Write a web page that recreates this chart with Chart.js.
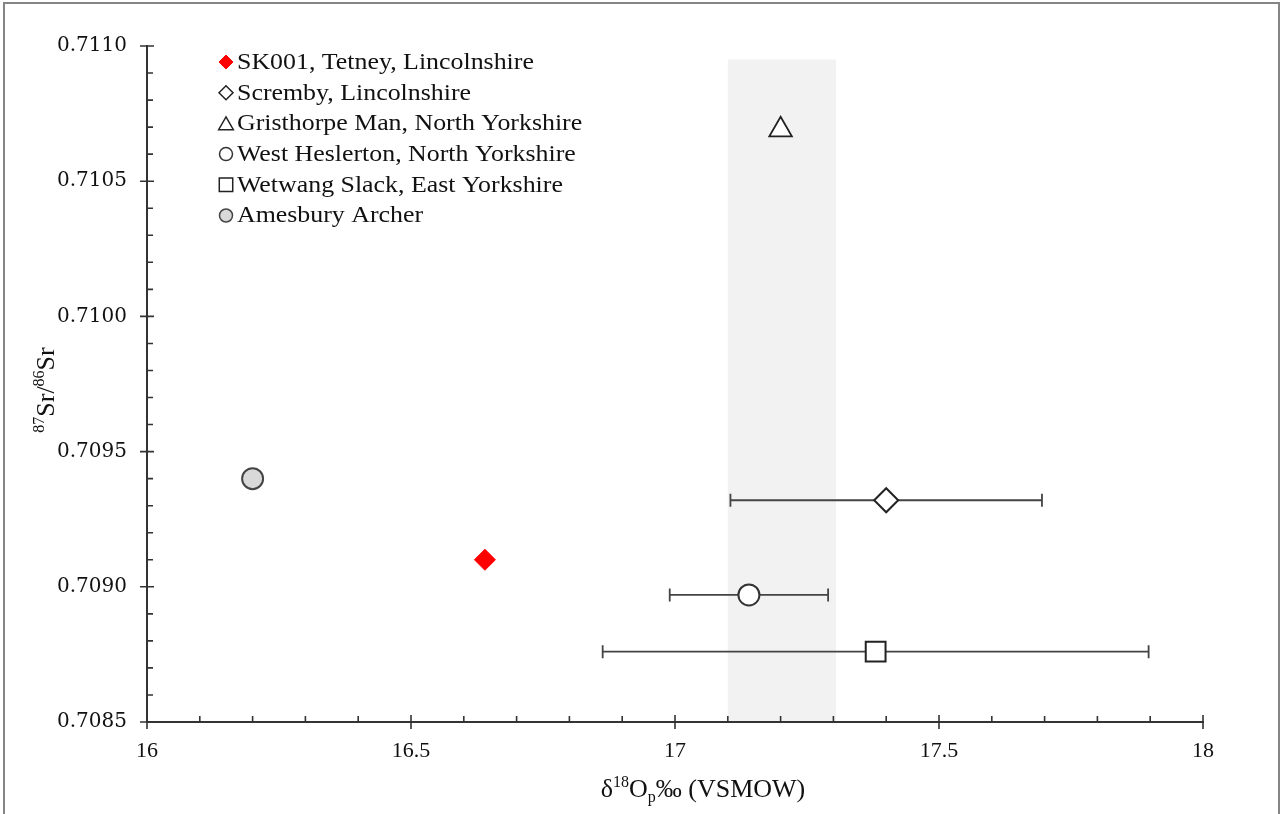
<!DOCTYPE html>
<html><head><meta charset="utf-8">
<script src="https://cdn.jsdelivr.net/npm/chart.js@4/dist/chart.umd.min.js"></script>
<style>
html,body{margin:0;padding:0;background:#fff;overflow:hidden;}
#wrap{position:relative;width:1283px;height:814px;}
#frame{position:absolute;left:3px;top:2px;width:1273px;height:840px;border:2px solid #858585;border-bottom:none;pointer-events:none;}
</style></head><body>
<div id="wrap"><canvas id="c" width="1283" height="814"></canvas><div id="frame"></div></div>
<script>
// ---- data ----
const siteLabels = [
  'SK001, Tetney, Lincolnshire',
  'Scremby, Lincolnshire',
  'Gristhorpe Man, North Yorkshire',
  'West Heslerton, North Yorkshire',
  'Wetwang Slack, East Yorkshire',
  'Amesbury Archer'
];
const d18O     = [16.64, 17.40, 17.20, 17.14, 17.38, 16.20];
const srRatio  = [0.70910, 0.70932, 0.71069, 0.70897, 0.70876, 0.70940];
const d18OErr  = [0, 0.295, 0, 0.15, 0.517, 0];
const xTickValues = [16, 16.5, 17, 17.5, 18];
const yTickValues = [0.7085, 0.7090, 0.7095, 0.7100, 0.7105, 0.7110];
const bandRange = [17.1, 17.305];
const bandTop = 0.71095;

// ---- styles ----
const markerStyles = [
  {style:'rectRot',  r:10.5, bg:'#ff0000', bd:'#ff0000', bw:1,   lr:7},
  {style:'rectRot',  r:12,   bg:'#ffffff', bd:'#222222', bw:2,   lr:7},
  {style:'triangle', r:13,   bg:'#ffffff', bd:'#222222', bw:1.8, lr:8.5},
  {style:'circle',   r:10.5, bg:'#ffffff', bd:'#333333', bw:2,   lr:6.5},
  {style:'rect',     r:14,   bg:'#ffffff', bd:'#222222', bw:2,   lr:9.5},
  {style:'circle',   r:10.5, bg:'#d9d9d9', bd:'#444444', bw:2,   lr:6.5}
];

const SERIF = "'Liberation Serif', 'Times New Roman', serif";

const datasets = siteLabels.map((lab, i) => ({
  label: lab,
  data: [{x: d18O[i], y: srRatio[i], err: d18OErr[i]}],
  pointStyle: markerStyles[i].style,
  pointRadius: markerStyles[i].r,
  pointBackgroundColor: markerStyles[i].bg,
  pointBorderColor: markerStyles[i].bd,
  pointBorderWidth: markerStyles[i].bw,
  showLine: false
}));

function drawMarker(ctx, style, x, y, r, bg, bd, bw) {
  ctx.save();
  ctx.beginPath();
  if (style === 'circle') {
    ctx.arc(x, y, r, 0, Math.PI * 2);
  } else if (style === 'rectRot') {
    ctx.moveTo(x - r, y); ctx.lineTo(x, y - r); ctx.lineTo(x + r, y); ctx.lineTo(x, y + r);
    ctx.closePath();
  } else if (style === 'triangle') {
    const a = 2 * Math.PI / 3;
    ctx.moveTo(x, y - r);
    ctx.lineTo(x + Math.sin(a) * r, y - Math.cos(a) * r);
    ctx.lineTo(x + Math.sin(2 * a) * r, y - Math.cos(2 * a) * r);
    ctx.closePath();
  } else if (style === 'rect') {
    const s = r * Math.SQRT1_2;
    ctx.rect(x - s, y - s, 2 * s, 2 * s);
  }
  ctx.fillStyle = bg; ctx.fill();
  ctx.lineWidth = bw; ctx.strokeStyle = bd; ctx.stroke();
  ctx.restore();
}

const decorPlugin = {
  id: 'decor',
  beforeDraw(chart) {
    const {ctx, scales: {x, y}, chartArea} = chart;
    const x0 = x.getPixelForValue(bandRange[0]);
    const x1 = x.getPixelForValue(bandRange[1]);
    const yt = y.getPixelForValue(bandTop);
    ctx.save();
    ctx.fillStyle = '#f2f2f2';
    ctx.fillRect(x0, yt, x1 - x0, chartArea.bottom - yt);
    ctx.restore();
  },
  beforeDatasetsDraw(chart) {
    const {ctx, scales: {x, y}} = chart;
    ctx.save();
    ctx.strokeStyle = '#444';
    ctx.lineWidth = 1.8;
    chart.data.datasets.forEach(ds => {
      ds.data.forEach(p => {
        if (!p.err) return;
        const py = y.getPixelForValue(p.y);
        const xa = x.getPixelForValue(p.x - p.err);
        const xb = x.getPixelForValue(p.x + p.err);
        ctx.beginPath();
        ctx.moveTo(xa, py); ctx.lineTo(xb, py);
        ctx.moveTo(xa, py - 6.5); ctx.lineTo(xa, py + 6.5);
        ctx.moveTo(xb, py - 6.5); ctx.lineTo(xb, py + 6.5);
        ctx.stroke();
      });
    });
    ctx.restore();
    ctx.save();
    ctx.strokeStyle = '#333';
    ctx.lineWidth = 1.6;
    const left = chart.chartArea.left, bottom = chart.chartArea.bottom;
    ctx.beginPath();
    const yStepMinor = (yTickValues[1] - yTickValues[0]) / 5;
    for (let i = 0; i < yTickValues.length; i++) {
      const py = y.getPixelForValue(yTickValues[i]);
      ctx.moveTo(left - 7, py); ctx.lineTo(left + 7, py);
      if (i < yTickValues.length - 1) {
        for (let k = 1; k < 5; k++) {
          const pm = y.getPixelForValue(yTickValues[i] + k * yStepMinor);
          ctx.moveTo(left, pm); ctx.lineTo(left + 6, pm);
        }
      }
    }
    const xStepMinor = (xTickValues[1] - xTickValues[0]) / 5;
    for (let i = 0; i < xTickValues.length; i++) {
      const px = x.getPixelForValue(xTickValues[i]);
      ctx.moveTo(px, bottom - 7); ctx.lineTo(px, bottom + 7);
      if (i < xTickValues.length - 1) {
        for (let k = 1; k < 5; k++) {
          const pm = x.getPixelForValue(xTickValues[i] + k * xStepMinor);
          ctx.moveTo(pm, bottom); ctx.lineTo(pm, bottom - 6);
        }
      }
    }
    ctx.stroke();
    ctx.restore();
  },
  afterDraw(chart) {
    const {ctx} = chart;
    // legend
    chart.data.datasets.forEach((ds, i) => {
      const ly = 62 + i * 30.7;
      const m = markerStyles[i];
      drawMarker(ctx, m.style, 226, ly + (m.style === 'triangle' ? 2 : 0), m.lr, m.bg, m.bd, i === 0 ? 1 : 1.5);
      ctx.save();
      ctx.font = '22.5px ' + SERIF;
      ctx.fillStyle = '#111';
      ctx.textBaseline = 'middle';
      ctx.textAlign = 'left';
      ctx.translate(237, ly + 1);
      ctx.scale(1.15, 1);
      ctx.fillText(ds.label, 0, 0);
      ctx.restore();
    });

    // x axis title: δ18Op‰ (VSMOW)
    ctx.save();
    ctx.fillStyle = '#111';
    ctx.textBaseline = 'alphabetic';
    const parts = [
      {t: 'δ', s: 26, dy: 0},
      {t: '18', s: 16, dy: -10},
      {t: 'O', s: 26, dy: 0},
      {t: 'p', s: 16, dy: 5},
      {t: '‰ (VSMOW)', s: 26, dy: 0}
    ];
    let tw = 0;
    parts.forEach(p => { ctx.font = p.s + 'px ' + SERIF; p.w = ctx.measureText(p.t).width; tw += p.w; });
    let cx = 703 - tw / 2;
    const by = 797;
    parts.forEach(p => { ctx.font = p.s + 'px ' + SERIF; ctx.fillText(p.t, cx, by + p.dy); cx += p.w; });
    ctx.restore();

    // y axis title: 87Sr/86Sr
    ctx.save();
    ctx.translate(54, 390);
    ctx.rotate(-Math.PI / 2);
    ctx.fillStyle = '#111';
    ctx.textBaseline = 'alphabetic';
    const yparts = [
      {t: '87', s: 16, dy: -10},
      {t: 'Sr/', s: 26, dy: 0},
      {t: '86', s: 16, dy: -10},
      {t: 'Sr', s: 26, dy: 0}
    ];
    let yw = 0;
    yparts.forEach(p => { ctx.font = p.s + 'px ' + SERIF; p.w = ctx.measureText(p.t).width; yw += p.w; });
    let yx = -yw / 2;
    yparts.forEach(p => { ctx.font = p.s + 'px ' + SERIF; ctx.fillText(p.t, yx, p.dy); yx += p.w; });
    ctx.restore();
  }
};

new Chart(document.getElementById('c'), {
  type: 'scatter',
  data: {datasets},
  options: {
    responsive: false,
    animation: false,
    events: [],
    layout: {padding: {top: 46, right: 80, bottom: 0, left: 0}},
    plugins: {legend: {display: false}, tooltip: {enabled: false}, title: {display: false}},
    scales: {
      x: {
        type: 'linear', min: 16, max: 18,
        afterBuildTicks: s => { s.ticks = xTickValues.map(v => ({value: v})); },
        afterFit: s => { s.height = 92; },
        grid: {display: false, drawTicks: false},
        border: {display: true, color: '#333', width: 2},
        ticks: {color: '#111', font: {family: SERIF, size: 22}, padding: 16, maxRotation: 0, autoSkip: false,
                callback: v => String(v)}
      },
      y: {
        type: 'linear', min: 0.7085, max: 0.7110,
        afterBuildTicks: s => { s.ticks = yTickValues.map(v => ({value: v})); },
        afterFit: s => { s.width = 147; },
        grid: {display: false, drawTicks: false},
        border: {display: true, color: '#333', width: 2},
        ticks: {color: '#111', font: {family: "'DejaVu Serif', serif", size: 20}, padding: 20, autoSkip: false,
                callback: v => Number(v).toFixed(4)}
      }
    }
  },
  plugins: [decorPlugin]
});
</script>
</body></html>
